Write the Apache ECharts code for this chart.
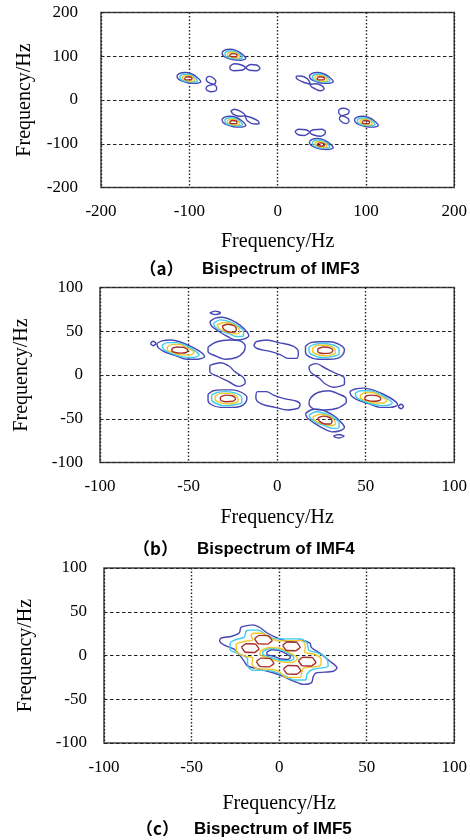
<!DOCTYPE html>
<html>
<head>
<meta charset="utf-8">
<script src="https://cdn.jsdelivr.net/npm/echarts@6/dist/echarts.min.js"></script>
<style>
html, body { margin: 0; background: #fff; }
#main { width: 470px; height: 840px; }
</style>
</head>
<body>
<div id="main"></div>
<script>
// contour level colours, lowest to highest
var levelColors = ['#4646b4', '#3ccdf0', '#f0c828', '#a8302c'];

// ---- (a) IMF3 ----
var blobCentersA = [[-101, 49], [-50, 102], [-50, -51], [49, 49], [100, -51], [49, -102]];
var blobRingsA = [
	[[-13, 7], [-10, 12], [-4, 14], [3, 11], [9, 4], [14, -7], [8, -11], [0, -10], [-7, -6], [-12, 0]],
	[[-10, 5], [-6, 10], [0, 10], [6, 4], [10, -5], [5, -8], [-2, -7], [-8, -3]],
	[[-7, 4], [-3, 7], [2, 6], [6, 1], [7, -4], [2, -6], [-3, -4], [-6, -1]],
	[[-4, 2], [-1, 4], [3, 3], [4, 0], [3, -3], [-1, -3], [-4, -1]]
];
var loopsA = [
	[[-81, 49], [-78, 54], [-74, 52], [-70, 43], [-72, 36], [-76, 38], [-80, 43]],
	[[-72, 36], [-69, 28], [-70, 21], [-75, 19], [-81, 25], [-80, 31], [-76, 34]],
	[[-54, 77], [-49, 83], [-41, 80], [-36.5, 73.5], [-41, 68], [-50, 67], [-54, 72]],
	[[-36.5, 73.5], [-30, 81], [-24, 80], [-20, 72], [-24, 67], [-32, 68]],
	[[-53, -25], [-49, -21], [-43, -25], [-37, -34], [-43, -37], [-50, -33]],
	[[-37, -36], [-30, -40], [-22, -48], [-21, -54], [-26, -55], [-34, -48]],
	[[81, -49], [78, -54], [74, -52], [70, -43], [72, -36], [76, -38], [80, -43]],
	[[72, -36], [69, -28], [70, -21], [75, -19], [81, -25], [80, -31], [76, -34]],
	[[54, -77], [49, -83], [41, -80], [36.5, -73.5], [41, -68], [50, -67], [54, -72]],
	[[36.5, -73.5], [30, -81], [24, -80], [20, -72], [24, -67], [32, -68]],
	[[53, 25], [49, 21], [43, 25], [37, 34], [43, 37], [50, 33]],
	[[37, 36], [30, 40], [22, 48], [21, 54], [26, 55], [34, 48]]
];

// ---- (b) IMF4 ----
var blobCentersB = [[-55, 28], [54, -27], [-27, 53], [27, -52], [27, 28], [-28, -27]];
var blobTypesB = ['T', 'T', 'S', 'S', 'F', 'F'];
var blobRingsB = {
	T: [
		[[-13, 8], [-10, 11], [-5, 12], [0, 10], [6, 5], [12, -2], [14, -7], [10, -10], [4, -10], [-2, -6], [-8, -2], [-12, 3]],
		[[-10, 6], [-7, 9], [-2, 9], [4, 5], [9, -1], [11, -5], [7, -8], [1, -7], [-5, -3], [-9, 1]],
		[[-7, 4], [-4, 7], [0, 7], [4, 3], [8, -2], [6, -5], [1, -5], [-4, -2], [-7, 1]],
		[[-4, 3], [-1, 4], [2, 3.5], [4.5, 0], [4, -2], [1, -3], [-3, -2], [-4.5, 0]]
	],
	S: [
		[[-11, 8], [-8, 12], [-4, 13], [1, 10], [6, 4], [10, -4], [11, -8], [8, -12], [4, -13], [-1, -9], [-6, -3], [-10, 3]],
		[[-9, 6], [-5, 10], [0, 8], [5, 3], [8, -3], [8, -8], [4, -9], [0, -6], [-5, -2], [-8, 2]],
		[[-7, 4], [-3, 7], [1, 6], [5, 1], [6, -4], [3, -6], [-1, -4], [-5, -1]],
		[[-4, 3], [-1, 5], [3, 3], [4, -1], [3, -4], [0, -4], [-3, -1]]
	],
	F: [
		[[-11, 5], [-8, 9], [-3, 10], [3, 10], [8, 7], [11, 1], [10, -5], [7, -9], [2, -10], [-4, -10], [-9, -7], [-11, -2]],
		[[-9, 4], [-6, 7], [-1, 8], [5, 6], [8, 1], [8, -4], [4, -7], [-2, -8], [-7, -5], [-9, -1]],
		[[-7, 3], [-4, 6], [1, 6], [5, 3], [6, -2], [4, -5], [-1, -6], [-5, -4], [-7, -1]],
		[[-4, 2], [-1, 4], [3, 3], [4.5, 0], [3, -3], [-1, -3.5], [-4, -1.5]]
	]
};
var loopsB = [
	[[-39, 32], [-34, 38], [-27, 40], [-21, 39], [-18, 33], [-19, 26], [-23, 20], [-29, 18], [-35, 22], [-39, 27]],
	[[39, -32], [34, -38], [27, -40], [21, -39], [18, -33], [19, -26], [23, -20], [29, -18], [35, -22], [39, -27]],
	[[-38, 11], [-32, 14], [-27, 10], [-24, 4], [-19, -3], [-18, -9], [-22, -13], [-27, -8], [-33, -2], [-38, 4]],
	[[38, -11], [32, -14], [27, -10], [24, -4], [19, 3], [18, 9], [22, 13], [27, 8], [33, 2], [38, -4]],
	[[-12, 38], [-6, 40], [1, 37], [9, 33], [12, 26], [11, 19], [6, 19], [2, 23], [-4, 27], [-11, 30], [-13, 34]],
	[[12, -38], [6, -40], [-1, -37], [-9, -33], [-12, -26], [-11, -19], [-6, -19], [-2, -23], [4, -27], [11, -30], [13, -34]],
	[[-71.5, 36], [-70, 38.5], [-68.5, 36], [-70, 33.5]],
	[[71.5, -36], [70, -33.5], [68.5, -36], [70, -38.5]],
	[[-38, 71], [-35, 73], [-32, 71], [-35, 69]],
	[[38, -70], [35, -68], [32, -70], [35, -72]]
];

// ---- (c) IMF5 ----
var outerC = [[-21, 33], [-15, 35], [-11, 32], [-7, 26], [-1, 20], [6, 16], [12, 17.5], [17.5, 14.5], [18.5, 9], [23, 3], [29, -6.5], [33, -14], [31, -18], [21, -20], [19.5, -24], [18.5, -31], [14, -33], [8, -29], [2.5, -24], [-3, -20], [-10.5, -16], [-18, -12], [-20, -6.5], [-22, -1], [-25.5, 7], [-31, 11.5], [-34, 16.5], [-33, 20], [-27, 22], [-22.7, 26], [-22, 31.6]];
var cyanC = [[-18, 29], [-12, 29], [-7, 23], [-2, 19], [5, 19], [12, 19], [16, 14], [17, 6], [22, 3], [27, -3], [28, -12], [19, -16], [16, -21], [15, -28], [9, -28], [3, -23], [-2, -19], [-7, -17], [-15, -17], [-18, -11], [-18, -4], [-23, 2], [-28, 7], [-28, 14], [-25, 18], [-20, 21], [-19, 27]];
var yellowC = [[-15, 25.5], [-10, 25.5], [-4, 19], [0, 16.5], [5, 17], [13, 17], [15, 10], [14.5, 4], [20, 1.5], [24, -4], [23.5, -11.5], [14, -14.5], [13, -19], [12, -25], [4, -25], [0, -18.5], [-4, -16], [-13, -15], [-15.5, -9], [-15, -3], [-20, -0.5], [-24.5, 5], [-24.5, 12.5], [-20, 16], [-15, 18], [-16, 23]];
var centerRingsC = [
	[[-7, 4], [-4, 6.5], [0, 5.5], [4, 2], [6.5, -2], [5, -4.5], [1, -4], [-3, -1], [-7, 1.5]],
	[[-9, 5], [-5, 8], [0, 7], [5, 3], [8.5, -3], [6, -6], [0, -5.5], [-5, -2], [-9.5, 2]],
	[[-10.5, 5.5], [-6, 9], [0, 8.5], [5.5, 3.5], [10.5, -3.5], [7, -8], [0, -7], [-6, -3], [-11, 1.5]]
];
var peakCentersC = [[-9, 18], [-16.5, 8.5], [7, 10.5], [-8, -8], [16, -7], [7.5, -16.5]];
var peakRingC = [[-5, 1], [-2.5, 5], [3, 4.5], [5, -1], [2.5, -5], [-3, -4.5]];

var titles = [['（a）', 'Bispectrum of IMF3'], ['（b）', 'Bispectrum of IMF4'], ['（c）', 'Bispectrum of IMF5']];
var ranges = [200, 100, 100];
var steps = [100, 50, 50];

var grids = [
	{ left: 101, top: 12.5, width: 354, height: 175 },
	{ left: 100, top: 287.5, width: 355, height: 175 },
	{ left: 104, top: 568, width: 355, height: 175 }
];
var captionY = [269, 549, 829];
var parenX = [161.5, 155.5, 157.5];
var textX = [202, 197, 194];
var xNameGap = [44, 45, 51];

function shift(c, pts) {
	return pts.map(function(p) { return [c[0] + p[0], c[1] + p[1]]; });
}

var series = [];
function ring(pts, level, idx, smooth) {
	series.push({
		type: 'line',
		xAxisIndex: idx,
		yAxisIndex: idx,
		data: pts.concat([pts[0]]),
		symbol: 'none',
		smooth: smooth,
		silent: true,
		lineStyle: { color: levelColors[level], width: 1.4 }
	});
}

blobCentersA.forEach(function(c) {
	blobRingsA.forEach(function(r, lv) { ring(shift(c, r), lv, 0, 0.3); });
});
loopsA.forEach(function(p) { ring(p, 0, 0, 0.35); });

blobCentersB.forEach(function(c, i) {
	blobRingsB[blobTypesB[i]].forEach(function(r, lv) { ring(shift(c, r), lv, 1, 0.3); });
});
loopsB.forEach(function(p) { ring(p, 0, 1, 0.35); });

ring(outerC, 0, 2, 0.3);
ring(cyanC, 1, 2, 0.3);
ring(yellowC, 2, 2, 0.3);
centerRingsC.forEach(function(r, i) { ring(r, i, 2, 0.3); });
peakCentersC.forEach(function(c) { ring(shift(c, peakRingC), 3, 2, 0.1); });

var serif = '"Liberation Serif", "Times New Roman", serif';
var xAxes = [], yAxes = [], graphics = [];
grids.forEach(function(g, i) {
	g.show = true;
	g.borderColor = '#444';
	g.borderWidth = 1.5;
	xAxes.push({
		type: 'value', gridIndex: i, min: -ranges[i], max: ranges[i], interval: steps[i],
		name: 'Frequency/Hz', nameLocation: 'middle', nameGap: xNameGap[i],
		nameTextStyle: { fontFamily: serif, fontSize: 20, color: '#000' },
		axisLine: { show: false }, axisTick: { show: false },
		axisLabel: { fontFamily: serif, fontSize: 17, color: '#000', margin: 16 },
		splitLine: { lineStyle: { color: '#222', width: 1.4, type: [1.5, 2] } }
	});
	yAxes.push({
		type: 'value', gridIndex: i, min: -ranges[i], max: ranges[i], interval: steps[i],
		name: 'Frequency/Hz', nameLocation: 'middle', nameGap: i === 0 ? 66 : 68,
		nameTextStyle: { fontFamily: serif, fontSize: 20, color: '#000' },
		axisLine: { show: false }, axisTick: { show: false },
		axisLabel: { fontFamily: serif, fontSize: 17, color: '#000', margin: i === 0 ? 23 : 17 },
		splitLine: { lineStyle: { color: '#222', width: 1.2, type: [3.5, 2.5] } }
	});
	graphics.push({
		type: 'text', x: parenX[i], y: captionY[i],
		style: { text: titles[i][0], fontFamily: '"Noto Sans CJK SC", sans-serif', fontSize: 17, fontWeight: 'bold', fill: '#000', align: 'center', verticalAlign: 'middle' }
	});
	graphics.push({
		type: 'text', x: textX[i], y: captionY[i],
		style: { text: titles[i][1], fontFamily: '"Liberation Sans", Arial, sans-serif', fontSize: 17, fontWeight: 'bold', fill: '#000', align: 'left', verticalAlign: 'middle' }
	});
});

var chart = echarts.init(document.getElementById('main'));
chart.setOption({
	animation: false,
	grid: grids,
	xAxis: xAxes,
	yAxis: yAxes,
	series: series,
	graphic: graphics
});
</script>
</body>
</html>
